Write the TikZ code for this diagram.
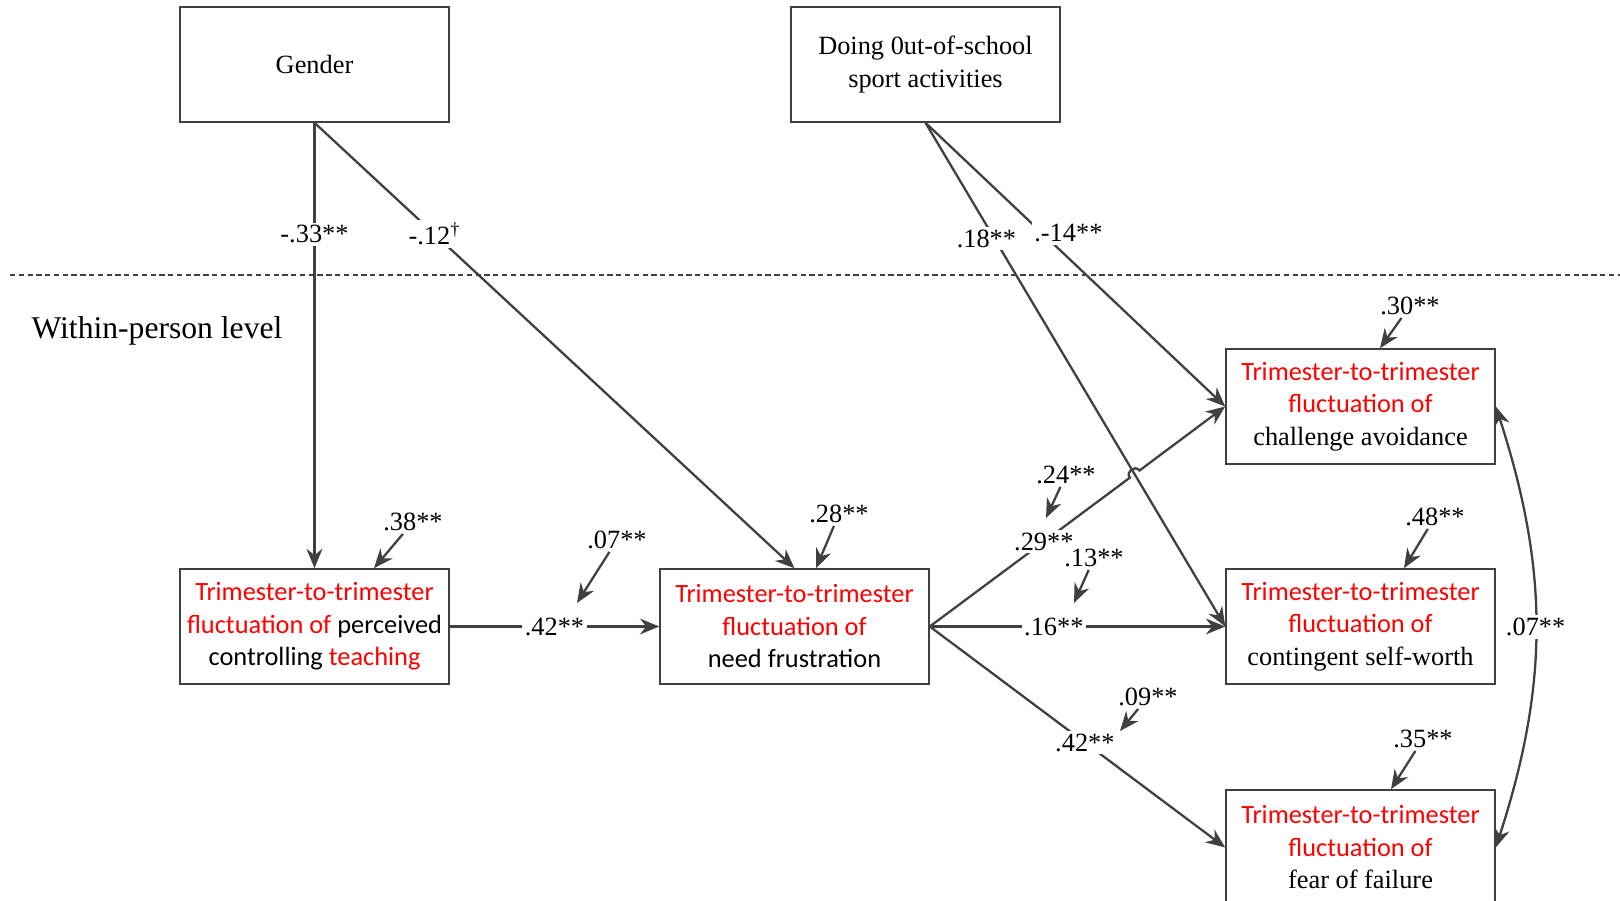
\documentclass[tikz,border=0pt]{standalone}
\usepackage{fontspec}
\setmainfont{Liberation Serif}
\newfontfamily\calibfont{Carlito}
\usepackage{xcolor}
\usepackage{tikz}
\usetikzlibrary{arrows.meta,positioning,calc}

\definecolor{linegray}{HTML}{404040}
\newcommand{\redtxt}[1]{\textcolor{red}{\calibfont #1}}

\begin{document}
\begin{tikzpicture}[x=0.02cm, y=-0.02cm,
    measure/.style={rectangle, draw=linegray, line width=0.9pt, minimum width=5.38cm, minimum height=2.3cm, align=center, inner sep=1pt, font=\fontsize{15}{18.5}\selectfont},
    effect/.style={-{Stealth[length=11pt,width=9pt]}, line width=1.3pt, draw=linegray},
    covar/.style={{Stealth[length=11pt,width=9pt]}-{Stealth[length=11pt,width=9pt]}, line width=1.3pt, draw=linegray},
    coef/.style={fill=white, text=black, inner sep=1.5pt, font=\fontsize{15}{18}\selectfont}
]
    \useasboundingbox (0,0) rectangle (1620,901);

    % Between-person predictors
    \node[measure] (gender) at (314.5,64.5) {Gender};
    \node[measure] (sport) at (925.5,64.5) {Doing 0ut-of-school\\sport activities};

    % Level separator
    \draw[linegray, line width=0.7pt, dash pattern=on 3pt off 2pt] (10,275) -- (1620,275);
    \node[font=\fontsize{18}{22}\selectfont] (within) at (157,331) {Within-person level};

    % Within-person measures
    \node[measure, font=\fontsize{15}{18.5}\selectfont\calibfont] (perc) at (314.5,626.5) {\redtxt{Trimester-to-trimester}\\\redtxt{fluctuation of} perceived\\controlling \redtxt{teaching}};
    \node[measure, font=\fontsize{15}{18.5}\selectfont\calibfont] (need) at (794.5,626.5) {\redtxt{Trimester-to-trimester}\\\redtxt{fluctuation of}\\need frustration};
    \node[measure] (chal) at (1360.5,406.5) {\redtxt{Trimester-to-trimester}\\\redtxt{fluctuation of}\\challenge avoidance};
    \node[measure] (cont) at (1360.5,626.5) {\redtxt{Trimester-to-trimester}\\\redtxt{fluctuation of}\\contingent self-worth};
    \node[measure] (fear) at (1360.5,847.5) {\redtxt{Trimester-to-trimester}\\\redtxt{fluctuation of}\\fear of failure};

    % Effects of the predictors
    \draw[effect] (gender.south) -- (perc.north) node[coef, pos=0.25] {-.33**};
    \draw[effect] (gender.south) -- (need.north) node[coef, pos=0.25] {-.12\textsuperscript{\dag}};
    \draw[effect] (sport.south) -- (chal.west) node[coef, pos=0.39, xshift=0.52cm] {.-14**};
    \draw[effect] (sport.south) -- (cont.west) node[coef, pos=0.23, xshift=-0.16cm] {.18**};

    % Within-person effects
    \draw[effect] (perc.east) -- (need.west) node[coef, pos=0.5] {.42**};
    \coordinate (hop) at (intersection of sport.south--cont.west and need.east--chal.west);
    \draw[effect] (need.east) -- ($(hop)!0.12cm!(need.east)$) node[coef, pos=0.57] {.29**}
        to[out=126.5, in=126.5, looseness=1.6] ($(hop)!0.12cm!(chal.west)$) -- (chal.west);
    \draw[effect] (need.east) -- (cont.west) node[coef, pos=0.42] {.16**};
    \draw[effect] (need.east) -- (fear.west) node[coef, pos=0.525] {.42**};
    \draw[covar] (chal.east) to[bend left=18] node[coef] {.07**} (fear.east);

    % Residuals
    \node[coef] (r38) at (413,522) {.38**};
    \node[coef] (r07) at (617,540) {.07**};
    \node[coef] (r28) at (839,514) {.28**};
    \node[coef] (r24) at (1066,475) {.24**};
    \node[coef] (r13) at (1094,558) {.13**};
    \node[coef] (r30) at (1410,306) {.30**};
    \node[coef] (r48) at (1435,517) {.48**};
    \node[coef] (r09) at (1148,697) {.09**};
    \node[coef] (r35) at (1423,739) {.35**};
    \coordinate (e07) at (577,603);
    \coordinate (e24) at (1046,518);
    \coordinate (e13) at (1074,603);
    \coordinate (e09) at (1120,731);
    \draw[effect] (r38) -- ([xshift=1.19cm]perc.north);
    \draw[effect] (r07) -- (e07);
    \draw[effect] (r28) -- ([xshift=0.43cm]need.north);
    \draw[effect] (r24) -- (e24);
    \draw[effect] (r13) -- (e13);
    \draw[effect] (r30) -- ([xshift=0.39cm]chal.north);
    \draw[effect] (r48) -- ([xshift=0.87cm]cont.north);
    \draw[effect] (r09) -- (e09);
    \draw[effect] (r35) -- ([xshift=0.61cm]fear.north);
\end{tikzpicture}
\end{document}
